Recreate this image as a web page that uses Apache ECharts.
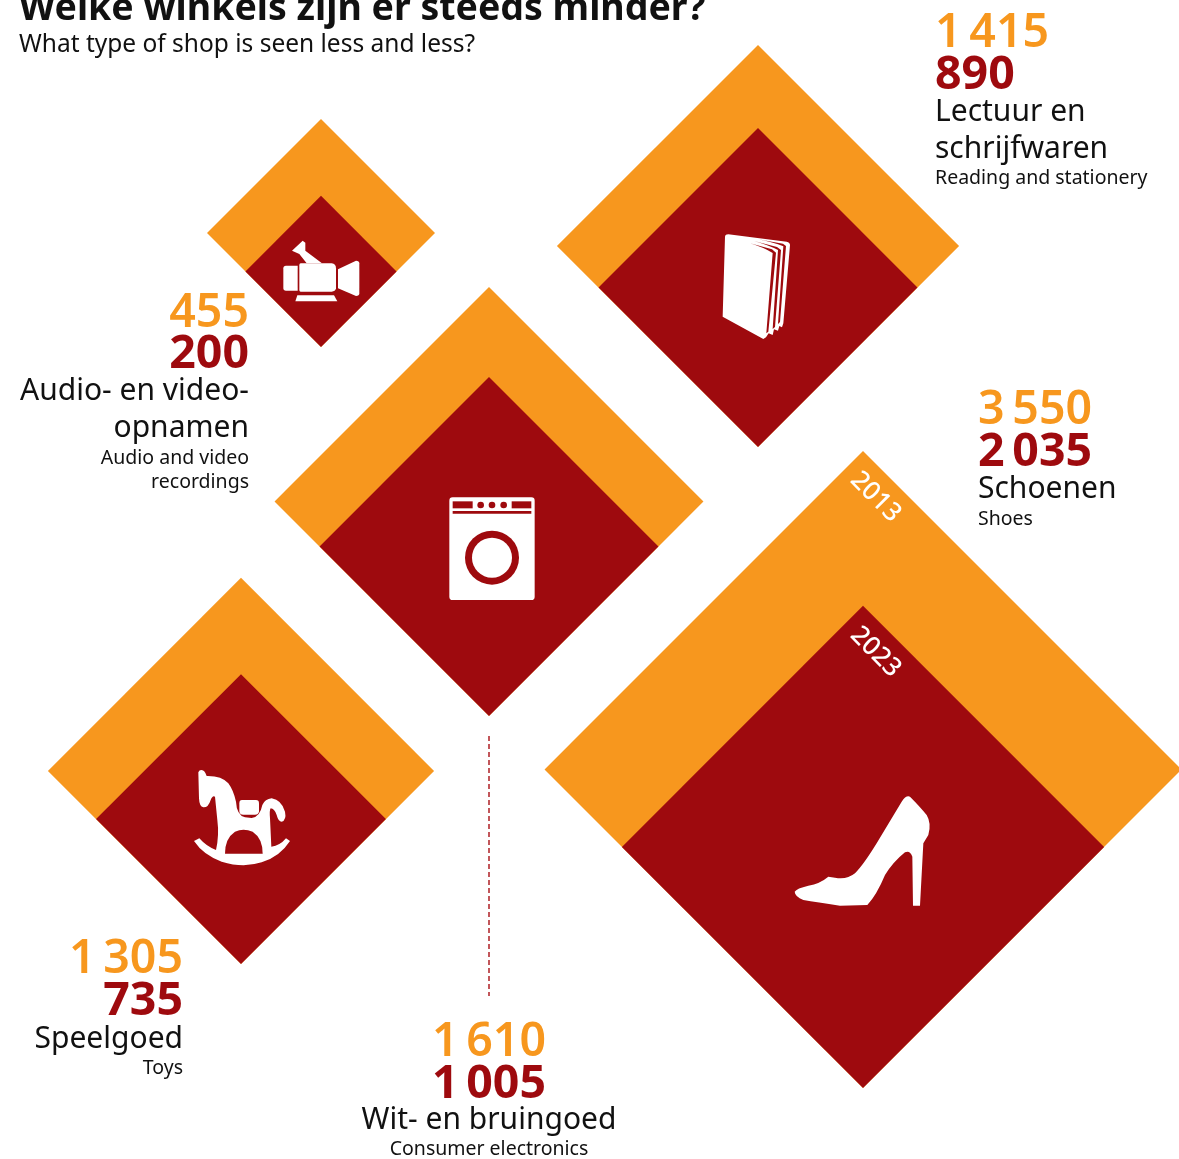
<!DOCTYPE html>
<html><head><meta charset="utf-8">
<style>html,body{margin:0;padding:0;background:#fff}#c{width:1179px;height:1159px}</style>
<script src="https://cdn.jsdelivr.net/npm/echarts@6/dist/echarts.min.js"></script>
</head><body><div id="c"></div>
<script>
// ---- data ----
const shopTypes = ['Schoenen','Lectuur en schrijfwaren','Wit- en bruingoed','Speelgoed','Audio- en video-opnamen'];
const shops2013 = [3550,1415,1610,1305,455];
const shops2023 = [2035,890,1005,735,200];
// ---- layout (not data) ----
const anchors = [[863,1088],[758,447],[489,716],[241,964],[321,347]];
const pxPerSqrtShop = 10.69;
const ORANGE='#F7971E', RED='#9E0A0E', FONT='"Noto Sans",sans-serif';
const labelBlocks = [
 {i:0,x:978,align:'left',ys:[407,449],lines:[['Schoenen',487,'nl'],['Shoes',518,'en']]},
 {i:1,x:935,align:'left',ys:[30,72],lines:[['Lectuur en',110,'nl'],['schrijfwaren',147,'nl'],['Reading and stationery',177,'en']]},
 {i:2,x:489,align:'center',ys:[1039,1081],lines:[['Wit- en bruingoed',1118,'nl'],['Consumer electronics',1148,'en']]},
 {i:3,x:183,align:'right',ys:[956,998],lines:[['Speelgoed',1037,'nl'],['Toys',1067,'en']]},
 {i:4,x:249,align:'right',ys:[310,351],lines:[['Audio- en video-',389,'nl'],['opnamen',426,'nl'],['Audio and video',457,'en'],['recordings',481,'en']]}
];
const icons = [
 {o:[780,785],parts:[['#fff','M44,320 Q50,310 85,302 Q120,296 145,275 L165,278 Q200,285 225,265 Q250,240 290,175 L365,50 Q378,30 390,35 Q420,65 440,90 Q455,115 445,150 L430,175 L420,362 L399,362 L397,215 Q390,195 375,202 Q340,230 315,270 Q290,330 262,360 L180,362 Q110,352 70,345 Q45,335 44,320 Z']]},
 {o:[700,220],parts:[['#fff','M75,50 Q76,43 85,43 L260,65 Q270,67 270,75 L250,310 L246,322 L238,318 L234,332 L222,328 L218,345 L206,340 L198,352 L190,357 L68,290 Z'],
   [RED,'M150,70 L216,88 L228,98 L205,335 L199,340 L218,99 Q190,82 150,70 Z'],
   [RED,'M162,63 L231,81 L243,90 L225,321 L218,327 L234,90 Q205,75 162,63 Z'],
   [RED,'M174,58 L249,71 L258,78 L240,306 L234,312 L250,79 Q220,67 174,58 Z']]},
 {o:[430,480],parts:[['#fff','M68,52 L304,52 Q314,52 314,62 L314,350 Q314,360 304,360 L68,360 Q58,360 58,350 L58,62 Q58,52 68,52 Z'],
   [RED,'M68,64 L128,64 L128,85 L68,85 Z'],[RED,'M245,64 L304,64 L304,85 L245,85 Z'],[RED,'M68,93 L304,93 L304,101 L68,101 Z'],
   [RED,'M142,75 A10,10 0 1 0 162,75 A10,10 0 1 0 142,75 Z'],[RED,'M176,75 A10,10 0 1 0 196,75 A10,10 0 1 0 176,75 Z'],[RED,'M211,75 A10,10 0 1 0 231,75 A10,10 0 1 0 211,75 Z'],
   [RED,'M105,233 A81,81 0 1 0 267,233 A81,81 0 1 0 105,233 Z'],['#fff','M126,233 A60,60 0 1 0 246,233 A60,60 0 1 0 126,233 Z']]},
 {o:[180,755],parts:[['#fff','M55,52 Q60,40 72,48 Q78,55 80,63 Q125,62 145,85 Q160,105 168,140 Q170,180 195,187 L215,189 Q240,186 247,150 Q255,132 275,130 Q305,135 315,170 Q320,195 305,200 Q295,200 290,180 Q283,160 272,160 Q268,165 270,190 L274,275 Q300,272 318,250 L330,258 Q300,305 245,322 Q190,340 125,320 Q70,300 42,258 L58,250 Q80,275 108,285 Q118,240 112,195 L105,125 Q98,120 92,135 Q85,158 70,157 Q58,155 57,130 Z'],
   ['#fff','M186,135 L228,135 Q237,135 237,145 L237,170 Q235,179 225,179 L190,179 Q178,179 178,168 L178,145 Q178,135 186,135 Z'],
   [RED,'M135,296 Q135,250 165,230 Q190,218 218,230 Q248,250 248,296 Z']]},
 {o:[260,220],parts:[['#fff','M78,137 L113,137 L113,212 L78,212 Q70,212 70,204 L70,145 Q70,137 78,137 Z'],
   ['#fff','M122,130 L215,130 Q228,132 228,145 L228,205 Q226,215 215,215 L122,215 Q118,215 118,210 L118,135 Q118,130 122,130 Z'],
   ['#fff','M234,148 L288,122 Q298,122 298,130 L298,220 Q298,228 288,228 L234,205 Z'],
   ['#fff','M112,226 L222,226 L232,244 L106,244 Z'],
   ['#fff','M96,92 L128,62 L136,68 L136,92 L186,130 L140,130 L118,102 Z']]}
];
const fmt = v => v >= 1000 ? Math.floor(v/1000)+'\u2009'+String(v%1000).padStart(3,'0') : String(v);
const text = (t,x,y,size,weight,fill,align,rot) => ({type:'text',x,y,rotation:rot||0,silent:true,
  style:{text:t,fontFamily:FONT,fontSize:size,fontWeight:weight,fill,align:align||'left',verticalAlign:'middle'}});

const graphics = [
 {type:'line',silent:true,shape:{x1:489,y1:736,x2:489,y2:996},style:{stroke:'#C2565A',lineWidth:2,lineDash:[5,3]}},
 text('Welke winkels zijn er steeds minder?',19,9,37.5,700,'#111'),
 text('What type of shop is seen less and less?',19,45,24.5,400,'#111')
];
labelBlocks.forEach(b=>{
  graphics.push(text(fmt(shops2013[b.i]),b.x,b.ys[0]+4,46.5,600,ORANGE,b.align));
  graphics.push(text(fmt(shops2023[b.i]),b.x,b.ys[1]+4,46.5,700,RED,b.align));
  b.lines.forEach(l=>graphics.push(text(l[0],b.x,l[1]+(l[2]==='nl'?2:1),l[2]==='nl'?30:19.5,400,'#111',b.align)));
});
graphics.push(text('2013',875.5,497,26,500,'#fff','center',-Math.PI/4));
graphics.push(text('2023',875.5,652,26,500,'#fff','center',-Math.PI/4));

const diamond = color => (params,api) => {
  const x=api.value(0), y=api.value(1), w=pxPerSqrtShop*Math.sqrt(api.value(2));
  const pts=[[x,y],[x-w/2,y-w/2],[x,y-w],[x+w/2,y-w/2]].map(p=>api.coord(p));
  return {type:'polygon',shape:{points:pts},style:{fill:color}};
};
const rows = vals => vals.map((v,i)=>({name:shopTypes[i],value:[anchors[i][0],anchors[i][1],v]}));

const chart = echarts.init(document.getElementById('c'),null,{renderer:'canvas'});
chart.setOption({
  animation:false,
  backgroundColor:'#fff',
  grid:{left:0,right:0,top:0,bottom:0},
  xAxis:{type:'value',min:0,max:1179,show:false},
  yAxis:{type:'value',min:0,max:1159,inverse:true,show:false},
  series:[
   {name:'2013',type:'custom',clip:false,coordinateSystem:'cartesian2d',renderItem:diamond(ORANGE),data:rows(shops2013),encode:{x:0,y:1},z:1},
   {name:'2023',type:'custom',clip:false,coordinateSystem:'cartesian2d',renderItem:diamond(RED),data:rows(shops2023),encode:{x:0,y:1},z:2},
   {name:'icons',type:'custom',coordinateSystem:'cartesian2d',z:3,silent:true,encode:{x:0,y:1},
    data:icons.map(ic=>ic.o),
    renderItem:(p,api)=>{
      const c=api.coord([api.value(0),api.value(1)]);
      return {type:'group',x:c[0],y:c[1],scaleX:1/3,scaleY:1/3,
        children:icons[p.dataIndex].parts.map(q=>({type:'path',shape:{pathData:q[1]},style:{fill:q[0]}}))};
    }}
  ],
  graphic:{elements:graphics.map(g=>Object.assign({z:10},g))}
});
</script></body></html>
